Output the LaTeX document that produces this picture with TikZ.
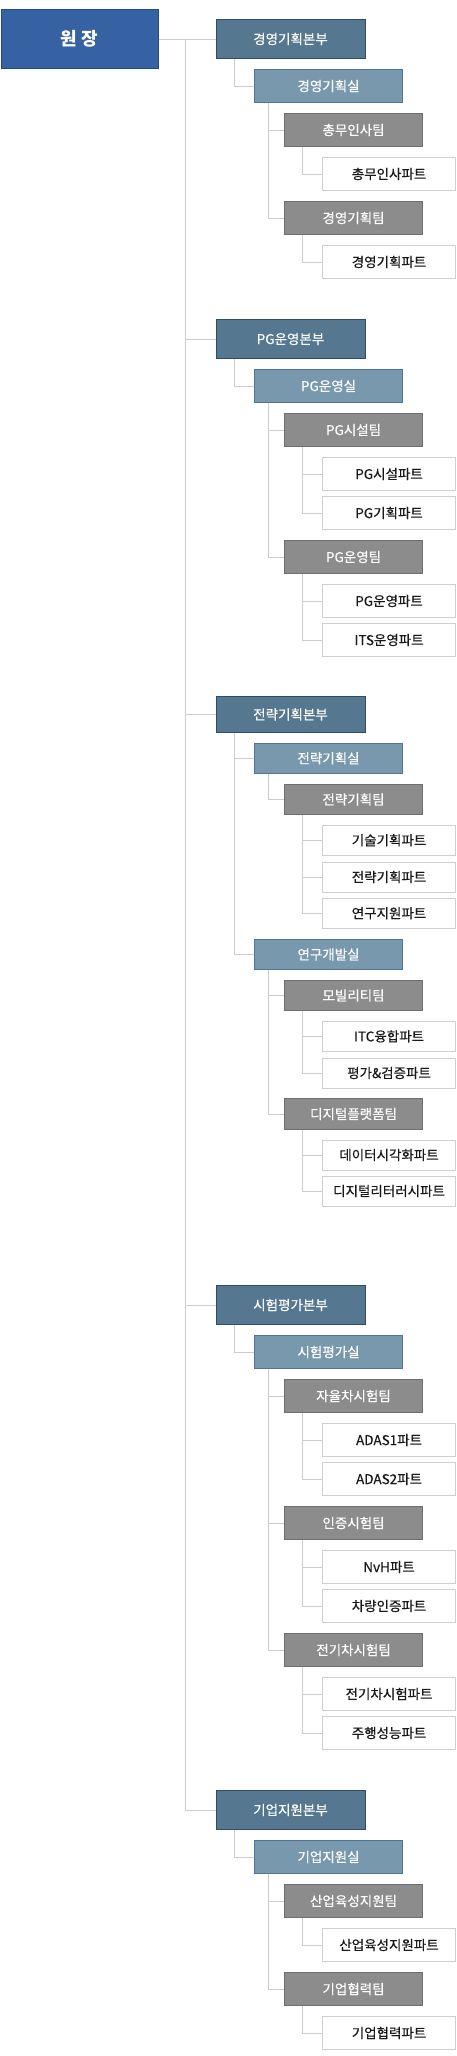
\documentclass[tikz,border=0pt]{standalone}
\usepackage{fontspec}
\newfontfamily\kr[FakeBold=0.35]{Noto Sans CJK KR}
\newfontfamily\krb{Noto Sans CJK KR}
\definecolor{wjfill}{HTML}{3662A3}
\definecolor{wjdraw}{HTML}{1F4D8C}
\definecolor{bbfill}{HTML}{557890}
\definecolor{bbdraw}{HTML}{2F4B66}
\definecolor{slfill}{HTML}{7898AE}
\definecolor{sldraw}{HTML}{4F7598}
\definecolor{tmfill}{HTML}{8C8C8C}
\definecolor{tmdraw}{HTML}{6E6E6E}
\definecolor{ptdraw}{HTML}{CFCFCF}
\definecolor{lncol}{HTML}{CCCCCC}
\tikzset{
 box/.style={rectangle, inner sep=0pt, anchor=west, line width=1pt, font=\kr\fontsize{13.5}{14}\selectfont},
 wonjang/.style={box, fill=wjfill, draw=wjdraw, minimum width=157pt, minimum height=58.5pt, text=white, font=\krb\bfseries\fontsize{18}{20}\selectfont},
 bonbu/.style={box, fill=bbfill, draw=bbdraw, minimum width=149pt, minimum height=38.5pt, text=white},
 sil/.style={box, fill=slfill, draw=sldraw, minimum width=148.5pt, minimum height=32.5pt, text=white},
 team/.style={box, fill=tmfill, draw=tmdraw, minimum width=138.5pt, minimum height=32.5pt, text=white},
 part/.style={box, fill=white, draw=ptdraw, minimum width=133.5pt, minimum height=32.5pt, text=black!90},
 conn/.style={draw=lncol, line width=1pt}
}
\begin{document}
\begin{tikzpicture}[x=1pt,y=-1pt]
\useasboundingbox (0,0) rectangle (456,2056);
% root
\node[wonjang] (wj) at (0.5,39) {원 장};
% section 1
\node[bonbu] (b1) at (215.5,39) {경영기획본부};
\node[sil] (s1) at (253.8,86) {경영기획실};
\node[team] (t1) at (283.8,130) {총무인사팀};
\node[part] (p1) at (321.8,174) {총무인사파트};
\node[team] (t2) at (283.8,218) {경영기획팀};
\node[part] (p2) at (321.8,262) {경영기획파트};
% section 2
\node[bonbu] (b2) at (215.5,339) {PG운영본부};
\node[sil] (s2) at (253.8,386) {PG운영실};
\node[team] (t3) at (283.8,430) {PG시설팀};
\node[part] (p3) at (321.8,474) {PG시설파트};
\node[part] (p4) at (321.8,513) {PG기획파트};
\node[team] (t4) at (283.8,557) {PG운영팀};
\node[part] (p5) at (321.8,601) {PG운영파트};
\node[part] (p6) at (321.8,640) {ITS운영파트};
% section 3 (slightly compressed)
\begin{scope}[bonbu/.append style={minimum height=36pt}, sil/.append style={minimum height=30.5pt}, team/.append style={minimum height=30.5pt}, part/.append style={minimum height=30pt}]
\node[bonbu] (b3) at (215.5,714.5) {전략기획본부};
\node[sil] (s3) at (253.8,758.3) {전략기획실};
\node[team] (t5) at (283.8,799.5) {전략기획팀};
\node[part] (p7) at (321.8,840.3) {기술기획파트};
\node[part] (p8) at (321.8,877) {전략기획파트};
\node[part] (p9) at (321.8,913.3) {연구지원파트};
\node[sil] (s4) at (253.8,954.5) {연구개발실};
\node[team] (t6) at (283.8,995.5) {모빌리티팀};
\node[part] (p10) at (321.8,1036.3) {ITC융합파트};
\node[part] (p11) at (321.8,1073) {평가\&검증파트};
\node[team] (t7) at (283.8,1114) {디지털플랫폼팀};
\node[part] (p12) at (321.8,1155) {데이터시각화파트};
\node[part] (p13) at (321.8,1191) {디지털리터러시파트};
\end{scope}
% section 4
\node[bonbu] (b4) at (215.5,1305) {시험평가본부};
\node[sil] (s5) at (253.8,1352) {시험평가실};
\node[team] (t8) at (283.8,1396) {자율차시험팀};
\node[part] (p14) at (321.8,1440) {ADAS1파트};
\node[part] (p15) at (321.8,1479) {ADAS2파트};
\node[team] (t9) at (283.8,1523) {인증시험팀};
\node[part] (p16) at (321.8,1567) {NvH파트};
\node[part] (p17) at (321.8,1606) {차량인증파트};
\node[team] (t10) at (283.8,1650) {전기차시험팀};
\node[part] (p18) at (321.8,1694) {전기차시험파트};
\node[part] (p19) at (321.8,1733) {주행성능파트};
% section 5
\node[bonbu] (b5) at (215.5,1810) {기업지원본부};
\node[sil] (s6) at (253.8,1857) {기업지원실};
\node[team] (t11) at (283.8,1901) {산업육성지원팀};
\node[part] (p20) at (321.8,1945) {산업육성지원파트};
\node[team] (t12) at (283.8,1989) {기업협력팀};
\node[part] (p21) at (321.8,2033) {기업협력파트};
% connectors: trunk
\draw[conn] (wj.east) -- (b1.west);
\foreach \b in {b2,b3,b4,b5} \draw[conn] ([xshift=27pt]wj.east) |- (\b.west);
% bonbu -> sil
\foreach \b/\s in {b1/s1,b2/s2,b3/s3,b3/s4,b4/s5,b5/s6} \draw[conn] ([xshift=19pt]\b.south west) |- (\s.west);
% sil -> team
\foreach \s/\t in {s1/t1,s1/t2,s2/t3,s2/t4,s3/t5,s4/t6,s4/t7,s5/t8,s5/t9,s5/t10,s6/t11,s6/t12} \draw[conn] ([xshift=15pt]\s.south west) |- (\t.west);
% team -> part
\foreach \t/\p in {t1/p1,t2/p2,t3/p3,t3/p4,t4/p5,t4/p6,t5/p7,t5/p8,t5/p9,t6/p10,t6/p11,t7/p12,t7/p13,t8/p14,t8/p15,t9/p16,t9/p17,t10/p18,t10/p19,t11/p20,t12/p21} \draw[conn] ([xshift=19pt]\t.south west) |- (\p.west);
\end{tikzpicture}
\end{document}
